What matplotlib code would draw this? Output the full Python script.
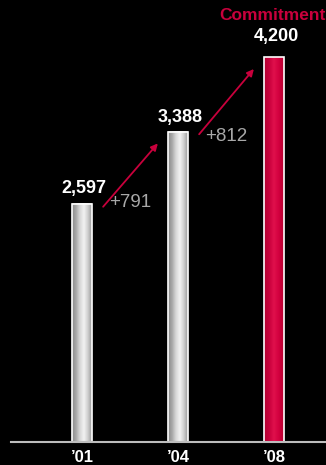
import matplotlib.pyplot as plt
import numpy as np
from matplotlib.colors import LinearSegmentedColormap

plt.rcParams['font.family'] = ['Liberation Sans', 'DejaVu Sans']

# data
years = ['\u201901', '\u201904', '\u201908']
values = [2597, 3388, 4200]
value_labels = ['2,597', '3,388', '4,200']
deltas = ['+791', '+812']

fig = plt.figure(figsize=(3.26, 4.65), dpi=100, facecolor='black')
ax = fig.add_axes([0, 23 / 465, 1, 442 / 465])
ax.set_facecolor('black')
ax.set_xlim(-82 / 96, 244 / 96)
ax.set_ylim(0, 4823)
ax.axis('off')

# cylinder-like shading
grey_cmap = LinearSegmentedColormap.from_list(
    'grey', ['#8a8a8a', '#a8a8a8', '#d8d8d8', '#f2f2f2', '#cfcfcf', '#9a9a9a'])
red_cmap = LinearSegmentedColormap.from_list(
    'red', ['#b0002f', '#c8003c', '#e0104c', '#d2003f', '#b8002f'])
grad = np.linspace(0, 1, 64).reshape(1, -1)

w = 0.2
for i, v in enumerate(values):
    cmap = red_cmap if i == 2 else grey_cmap
    ax.imshow(grad, cmap=cmap, aspect='auto', extent=(i - w / 2, i + w / 2, 0, v), zorder=2)
    ax.add_patch(plt.Rectangle((i - w / 2, 0), w, v, fill=False, ec='white', lw=1.2, zorder=3))

# baseline
ax.axhline(0, xmin=11 / 326, xmax=1, color='#bdbdbd', lw=1.5, zorder=4, clip_on=False)

# value labels
lab_off = [120, 100, 175]
for i, (v, lab) in enumerate(zip(values, value_labels)):
    ax.text(i + 0.02, v + lab_off[i], lab, color='white', fontsize=13, fontweight='bold',
            ha='center', va='baseline')
ax.text(2 - 0.02, values[2] + 404, 'Commitment', color='#c8003c', fontsize=12.5,
        fontweight='bold', ha='center', va='baseline')

# growth arrows + deltas
d_off = [-35, -100]
for i, d in enumerate(deltas):
    ax.annotate('', xy=(i + 0.79, values[i + 1] - 130), xytext=(i + 0.22, values[i] - 30),
                arrowprops=dict(arrowstyle='-|>', color='#c8003c', lw=1.3,
                                mutation_scale=10, shrinkA=0, shrinkB=0), zorder=5)
    ax.text(i + 0.285, values[i] + d_off[i], d, color='#a8a8a8', fontsize=13.5,
            ha='left', va='baseline')

# x labels
for i, y in enumerate(years):
    ax.text(i, -90, y, color='white', fontsize=12, fontweight='bold', ha='center', va='top')

fig.savefig('out.png', dpi=100, facecolor='black')
